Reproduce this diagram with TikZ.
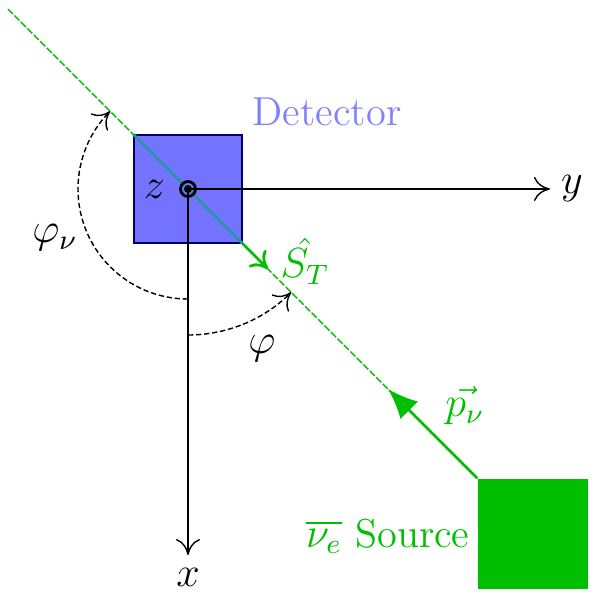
\documentclass[tikz,border=0pt]{standalone}
\usepackage{amsmath,amssymb}
\usetikzlibrary{arrows.meta}
\definecolor{inbeam}{RGB}{40,150,160}

\begin{document}
\begin{tikzpicture}[every node/.style={font=\fontsize{11.5}{14}\selectfont}, >={To[length=1.6mm,width=2.4mm]},
	beam/.style={green!75!black, thin, dash pattern=on 2pt off 0.6pt},
	vec/.style={green!75!black, thick},
	angarc/.style={dash pattern=on 1.5pt off 0.8pt, thin, ->}]
	\useasboundingbox (-1.88,1.89) rectangle (4.09,-4.05);
	\coordinate (O) at (0,0);
	\coordinate (top) at (-1.8,1.8);
	% source and beam line
	\node[fill=green!75!black, minimum size=1.1cm, inner sep=0] (src) at (3.45,-3.45) {};
	\draw[beam] (top) -- (src.north west);
	% detector
	\node[fill=blue!55, draw=blue!40!black, minimum size=1.08cm, inner sep=0] (det) at (O) {};
	\draw[inbeam, thick] (det.north west) -- (det.south east);
	\node[blue!50] (detlbl) at (1.39,0.77) {Detector};
	% axes
	\coordinate (yend) at (3.62,0);
	\coordinate (xend) at (0,-3.66);
	\draw[->] (O) -- (yend);
	\node (ylbl) at (3.84,0) {$y$};
	\draw[->] (O) -- (xend);
	\node (xlbl) at (0,-3.88) {$x$};
	\node[circle, draw, thick, inner sep=0, minimum size=1.5mm] (zc) at (O) {};
	\fill (O) circle (0.4mm);
	\node[left=3pt] (zlbl) at (O) {$z$};
	% spin and momentum
	\coordinate (st) at (0.8,-0.8);
	\coordinate (pn) at (2.0,-2.0);
	\draw[vec, ->] (det.south east) -- (st);
	\node[green!75!black] (stlbl) at (1.17,-0.72) {$\hat{S_T}$};
	\draw[vec, -{Latex[length=3mm,width=2.5mm]}] (src.north west) -- (pn);
	\node[green!75!black] (pnlbl) at (2.77,-2.17) {$\vec{p_\nu}$};
	\node[green!75!black, anchor=east] (srclbl) at (2.94,-3.47) {$\overline{\nu_e}$ Source};
	% angles
	\draw[angarc] (O) ++(-90:1.46) arc[start angle=-90, end angle=-45, radius=1.46];
	\node (phi) at (0.74,-1.6) {$\varphi$};
	\draw[angarc] (O) ++(-90:1.1) arc[start angle=-90, end angle=-225, radius=1.1];
	\node (phinu) at (-1.33,-0.49) {$\varphi_\nu$};
\end{tikzpicture}
\end{document}
